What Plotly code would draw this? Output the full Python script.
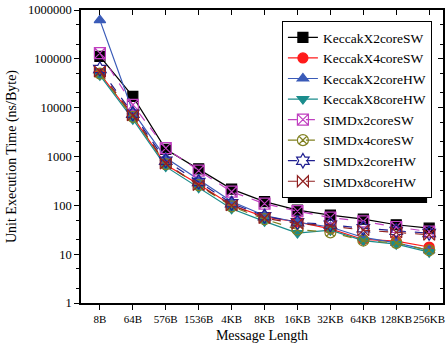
import plotly.graph_objects as go

cats = ["8B", "64B", "576B", "1536B", "4KB", "8KB", "16KB", "32KB", "64KB", "128KB", "256KB"]
names = ["KeccakX2coreSW", "KeccakX4coreSW", "KeccakX2coreHW", "KeccakX8coreHW",
         "SIMDx2coreSW", "SIMDx4coreSW", "SIMDx2coreHW", "SIMDx8coreHW"]
kx2sw = [112000, 17000, 1400, 560, 215, 119, 80, 63, 52, 40, 34]
kx4sw = [50000, 6500, 680, 270, 100, 58, 46, 33, 20, 18.5, 14]
kx2hw = [620000, 8300, 940, 340, 120, 62, 45, 36, 22, 17, 12]
kx8hw = [46000, 5800, 620, 230, 85, 47, 27, 31, 19, 16, 11]
s2sw = [131000, 11400, 1480, 515, 190, 108, 76, 56, 47, 36, 29]
s4sw = [50000, 6500, 700, 260, 95, 52, 32, 28, 19, 17, 12]
s2hw = [62000, 7500, 820, 300, 110, 60, 45, 40, 34, 30, 27]
s8hw = [55000, 7000, 720, 260, 100, 55, 42, 38, 31, 28, 25]
series = [kx2sw, kx4sw, kx2hw, kx8hw, s2sw, s4sw, s2hw, s8hw]

colors = ["#000000", "#FF1A1A", "#3A5BB8", "#1A8C8C", "#C040C0", "#808020", "#202090", "#902020"]
symbols = ["square", "circle", "triangle-up", "triangle-down",
           "square-x-open", "circle-x-open", "hexagram-open", "bowtie-open"]
dashes = ["solid"] * 4 + ["dash"] * 4

font = "Liberation Serif"
fig = go.Figure()
for n, ys, c, s, d in zip(names, series, colors, symbols, dashes):
    fig.add_trace(go.Scatter(
        x=cats, y=ys, name=n, mode="lines+markers",
        line=dict(color=c, width=1.2, dash=d),
        marker=dict(symbol=s, size=10 if not s.endswith("open") else 11, color=c,
                    line=dict(color=c, width=1.2)),
    ))

# dummy trace for mirrored top/right axes with inside ticks
fig.add_trace(go.Scatter(x=cats, y=[None] * len(cats), xaxis="x2", yaxis="y2",
                         showlegend=False, hoverinfo="skip", mode="lines"))

# legend drop shadow (pixel box converted to paper coords)
def px_x(p):
    return (p - 81) / 364.0

def px_y(p):
    return (303 - p) / 293.0

fig.add_shape(type="rect", xref="paper", yref="paper",
              x0=px_x(289), x1=px_x(429), y0=px_y(203), y1=px_y(27),
              fillcolor="black", line=dict(width=0), layer="above")

xr = [-0.574, 10.42]
fig.update_layout(
    width=446, height=346,
    margin=dict(l=81, r=1, t=10, b=43),
    paper_bgcolor="white", plot_bgcolor="white",
    font=dict(family=font, size=11, color="black"),
    showlegend=True,
    legend=dict(x=0.555, y=0.962, xanchor="left", yanchor="top",
                bgcolor="white", bordercolor="black", borderwidth=1,
                font=dict(family=font, size=13.5, color="black"),
                itemwidth=30, tracegroupgap=0),
    xaxis=dict(type="category", range=xr, showline=True, linecolor="black", linewidth=1.5,
               ticks="outside", ticklen=5, tickcolor="black", showgrid=False, zeroline=False,
               tickangle=0,
               title=dict(text="Message Length", font=dict(family=font, size=14), standoff=6),
               tickfont=dict(family=font, size=11)),
    yaxis=dict(type="log", range=[0, 6], showline=True, linecolor="black", linewidth=1.5,
               ticks="outside", ticklen=5, tickcolor="black", showgrid=False, zeroline=False,
               tickvals=[1, 10, 100, 1000, 10000, 100000, 1000000],
               ticktext=["1", "10", "100", "1000", "10000", "100000", "1000000"],
               minor=dict(ticks="outside", ticklen=3, tickcolor="black", showgrid=False),
               title=dict(text="Unit Execution Time (ns/Byte)", font=dict(family=font, size=14), standoff=8),
               tickfont=dict(family=font, size=12.5)),
    xaxis2=dict(type="category", range=xr, overlaying="x", side="top", anchor="y2",
                showline=True, linecolor="black", linewidth=1.5, ticks="inside", ticklen=5,
                tickcolor="black", showticklabels=False, showgrid=False, zeroline=False),
    yaxis2=dict(type="log", range=[0, 6], overlaying="y", side="right", anchor="x2",
                showline=True, linecolor="black", linewidth=1.5, ticks="inside", ticklen=5,
                tickcolor="black", showticklabels=False, showgrid=False, zeroline=False,
                tickvals=[1, 10, 100, 1000, 10000, 100000, 1000000],
                minor=dict(ticks="inside", ticklen=3, tickcolor="black", showgrid=False)),
)
fig.write_html("out.html")
